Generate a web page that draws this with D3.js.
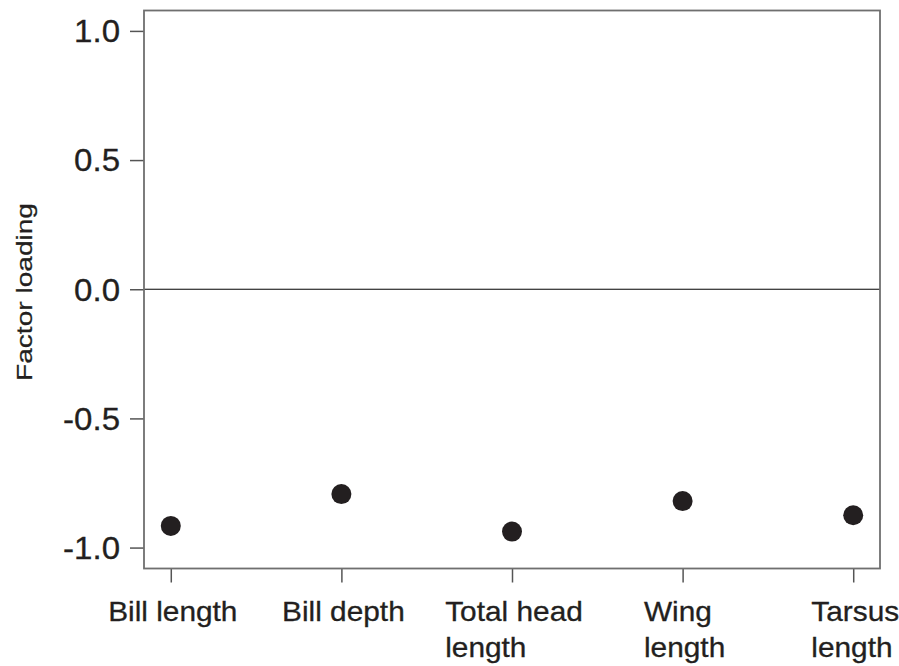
<!DOCTYPE html>
<html>
<head>
<meta charset="utf-8">
<script src="https://cdn.jsdelivr.net/npm/d3@7"></script>
<style>
  body { margin: 0; background: #fff; }
  svg { display: block; font-family: "Liberation Sans", Arial, sans-serif; }
</style>
</head>
<body>
<svg id="chart" width="899" height="666"></svg>
<script>
// data
var traits = ["Bill length", "Bill depth", "Total head length", "Wing length", "Tarsus length"];
var traitLines = [["Bill length"], ["Bill depth"], ["Total head", "length"], ["Wing", "length"], ["Tarsus", "length"]];
var loadings = [-0.916, -0.793, -0.938, -0.820, -0.875];
var yTicks = [1.0, 0.5, 0.0, -0.5, -1.0];

var ink = "#231f20";
var stretch = 1.065; // glyphs in the figure are a little wider than Arial
var svg = d3.select("#chart");
var margin = { top: 10.5, right: 19, bottom: 97.5, left: 144 };
var width = 899 - margin.left - margin.right;
var height = 666 - margin.top - margin.bottom;

var g = svg.append("g")
  .attr("transform", `translate(${margin.left},${margin.top})`);

var x = d3.scalePoint().domain(traits).range([0, width]).padding(0.157);
var y = d3.scaleLinear().domain([-1.081, 1.079]).range([height, 0]);

// y axis
g.append("g")
  .call(d3.axisLeft(y).tickValues(yTicks).tickSize(14).tickPadding(10)
    .tickFormat(d => d.toFixed(1)))
  .call(a => a.select(".domain").remove())
  .call(a => a.selectAll(".tick line").attr("stroke", "#555").attr("stroke-width", 1.5))
  .call(a => a.selectAll(".tick text")
    .attr("fill", ink).attr("font-size", 31).attr("font-family", null)
    .attr("stroke", ink).attr("stroke-width", 0.3)
    .attr("dy", "0.35em")
    .each(function() {
      var t = d3.select(this);
      t.attr("textLength", this.getComputedTextLength() * stretch)
       .attr("lengthAdjust", "spacingAndGlyphs");
    }));

// x axis (ticks only, labels drawn below)
g.append("g")
  .attr("transform", `translate(0,${height})`)
  .call(d3.axisBottom(x).tickSize(14).tickFormat(""))
  .call(a => a.select(".domain").remove())
  .call(a => a.selectAll(".tick line").attr("stroke", "#555").attr("stroke-width", 1.5));

// multi-line labels: lines left-aligned, block centred on tick
traits.forEach(function(t, i) {
  var lab = g.append("text")
    .attr("fill", ink)
    .attr("stroke", ink).attr("stroke-width", 0.3)
    .attr("font-size", 28);
  traitLines[i].forEach(function(line, j) {
    lab.append("tspan").attr("y", height + 52 + j * 36).text(line);
  });
  var spans = lab.selectAll("tspan");
  spans.each(function() {
    d3.select(this)
      .attr("textLength", this.getComputedTextLength() * stretch)
      .attr("lengthAdjust", "spacingAndGlyphs");
  });
  var w = d3.max(spans.nodes(), n => +n.getAttribute("textLength"));
  spans.attr("x", x(t) - w / 2 + 2);
});

// zero line
g.append("line")
  .attr("x1", 0).attr("x2", width)
  .attr("y1", y(0)).attr("y2", y(0))
  .attr("stroke", "#000").attr("stroke-width", 1);

// frame
g.append("rect")
  .attr("width", width).attr("height", height)
  .attr("fill", "none").attr("stroke", "#6f6f6f").attr("stroke-width", 1.8);

// points
g.selectAll("circle.pt")
  .data(traits)
  .enter().append("circle")
  .attr("class", "pt")
  .attr("cx", d => x(d))
  .attr("cy", (d, i) => y(loadings[i]))
  .attr("r", 10)
  .attr("fill", ink);

// y title
svg.append("text")
  .attr("transform", `translate(32,${292}) rotate(-90)`)
  .attr("text-anchor", "middle")
  .attr("fill", ink)
  .attr("stroke", ink).attr("stroke-width", 0.25)
  .attr("font-size", 22)
  .attr("textLength", 178)
  .attr("lengthAdjust", "spacingAndGlyphs")
  .text("Factor loading");
</script>
</body>
</html>
